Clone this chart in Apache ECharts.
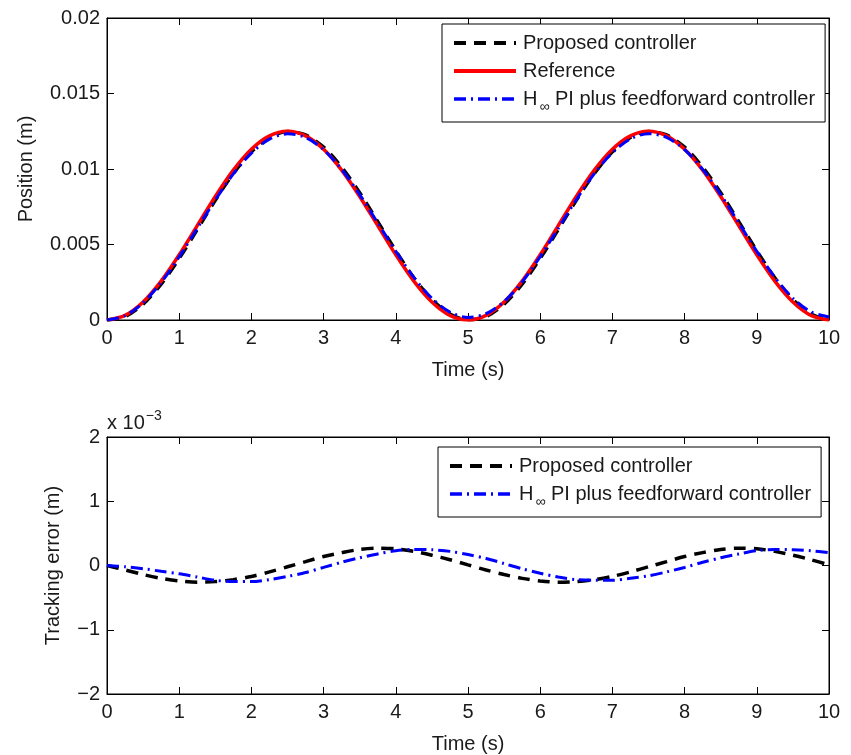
<!DOCTYPE html>
<html><head><meta charset="utf-8">
<script src="https://cdn.jsdelivr.net/npm/echarts@6/dist/echarts.min.js"></script>
<style>html,body{margin:0;padding:0;background:#fff}#c{width:851px;height:755px}</style>
</head><body><div id="c"></div>
<script>
// time samples (s)
const time = [0,0.25,0.5,0.75,1,1.25,1.5,1.75,2,2.25,2.5,2.75,3,3.25,3.5,3.75,4,4.25,4.5,4.75,5,5.25,5.5,5.75,6,6.25,6.5,6.75,7,7.25,7.5,7.75,8,8.25,8.5,8.75,9,9.25,9.5,9.75,10];
// top plot: positions (m)
const posReference = [0,0.000306,0.001194,0.002576,0.004319,0.00625,0.008181,0.009924,0.011306,0.012194,0.0125,0.012194,0.011306,0.009924,0.008181,0.00625,0.004319,0.002576,0.001194,0.000306,0,0.000306,0.001194,0.002576,0.004319,0.00625,0.008181,0.009924,0.011306,0.012194,0.0125,0.012194,0.011306,0.009924,0.008181,0.00625,0.004319,0.002576,0.001194,0.000306,0];
const posProposed = [0,0.000236,0.001054,0.002376,0.004079,0.00599,0.007931,0.009704,0.011136,0.012094,0.01248,0.012254,0.011446,0.010124,0.008431,0.00652,0.004579,0.002796,0.001354,0.000396,0.00001,0.000236,0.001054,0.002376,0.004079,0.00599,0.007931,0.009704,0.011136,0.012094,0.01248,0.012254,0.011446,0.010124,0.008431,0.00652,0.004579,0.002796,0.001354,0.000396,0.00001];
const posHinf = [0,0.000286,0.001144,0.002486,0.004189,0.00607,0.007951,0.009674,0.011056,0.011974,0.01233,0.012084,0.011276,0.009974,0.008301,0.00643,0.004549,0.002826,0.001439,0.000526,0.00017,0.000416,0.001224,0.002526,0.004199,0.00607,0.007961,0.009694,0.011076,0.011994,0.01234,0.012094,0.011276,0.009974,0.008301,0.00643,0.004549,0.002826,0.001439,0.000536,0.0002];
// bottom plot: tracking error (x 10^-3 m)
const errProposed = [0,-0.07,-0.14,-0.2,-0.24,-0.26,-0.25,-0.22,-0.17,-0.1,-0.02,0.06,0.14,0.2,0.25,0.27,0.26,0.22,0.16,0.09,0.01,-0.07,-0.14,-0.2,-0.24,-0.26,-0.25,-0.22,-0.17,-0.1,-0.02,0.06,0.14,0.2,0.25,0.27,0.26,0.22,0.16,0.09,0.01];
const errHinf = [0,-0.02,-0.05,-0.09,-0.13,-0.18,-0.23,-0.25,-0.25,-0.22,-0.17,-0.11,-0.03,0.05,0.12,0.18,0.23,0.25,0.245,0.22,0.17,0.11,0.03,-0.05,-0.12,-0.18,-0.22,-0.23,-0.23,-0.2,-0.16,-0.1,-0.03,0.05,0.12,0.18,0.23,0.25,0.245,0.23,0.2];
const xTicks = [0,1,2,3,4,5,6,7,8,9,10];
const posTicks = [0,0.005,0.01,0.015,0.02];
const errTicks = [-2,-1,0,1,2];
const names = ['Proposed controller','Reference','H\u221e PI plus feedforward controller'];

const FONT = '"Liberation Sans", Arial, Helvetica, sans-serif';
const TXT = '#1a1a1a';
const FS = 20;
const pair = (ys) => time.map((t,i)=>[t,ys[i]]);
const fmtNum = v => String(v).replace('-', '\u2212');

function xAx(gi, show){
  return {type:'value', gridIndex:gi, min:0, max:10, interval:1, position: show?'bottom':'top',
    axisLine:{show:true,onZero:false,lineStyle:{color:'#000',width:1}},
    axisTick:{show:true,inside:true,length:7,lineStyle:{color:'#000'}},
    axisLabel:{show:show,color:TXT,fontFamily:FONT,fontSize:FS,margin:8},
    splitLine:{show:false},
    name: show?'Time (s)':'', nameLocation:'middle', nameGap: 40,
    nameTextStyle:{color:TXT,fontFamily:FONT,fontSize:FS}};
}
function yAx(gi, show, min, max, interval, name, nameGap, fmt){
  return {type:'value', gridIndex:gi, min:min, max:max, interval:interval, position: show?'left':'right',
    axisLine:{show:true,onZero:false,lineStyle:{color:'#000',width:1}},
    axisTick:{show:true,inside:true,length:7,lineStyle:{color:'#000'}},
    axisLabel:{show:show,color:TXT,fontFamily:FONT,fontSize:FS,margin:7,formatter:fmt},
    splitLine:{show:false},
    name: show?name:'', nameLocation:'middle', nameGap:nameGap,
    nameTextStyle:{color:TXT,fontFamily:FONT,fontSize:FS}};
}
const dashBlack = {color:'#000', width:3.5, type:[12,8]};
const dashBlue = {color:'#0000ff', width:3, type:[12,5,2,5]};
const solidRed = {color:'#ff0000', width:3.5, type:'solid'};

const legendRich = {s:{fontSize:14, fontFamily:FONT, color:TXT, padding:[16,0,0,2]}, n:{fontSize:FS,fontFamily:FONT,color:TXT}};
const legendFmt = n => n.indexOf('\u221e')>=0 ? '{n|H}{s|\u221e}{n| PI plus feedforward controller}' : n;
const legendBase = {orient:'vertical', itemWidth:62, itemHeight:14, itemGap:8,
  padding:[9,10,8,10], backgroundColor:'#fff', borderColor:'#000', borderWidth:1,
  itemStyle:{opacity:0},
  textStyle:{color:TXT,fontFamily:FONT,fontSize:FS, rich:legendRich, padding:[0,0,0,2]}, formatter:legendFmt, selectedMode:false};
const legItem = (n, w) => ({name:n, lineStyle:{width:w}});

const option = {
  animation:false,
  backgroundColor:'#fff',
  textStyle:{fontFamily:FONT},
  grid:[
    {left:107, top:18, width:722, height:302, show:true, borderColor:'#000', borderWidth:1, backgroundColor:'#fff'},
    {left:107, top:437, width:722, height:257, show:true, borderColor:'#000', borderWidth:1, backgroundColor:'#fff'}
  ],
  xAxis:[xAx(0,true), xAx(0,false), xAx(1,true), xAx(1,false)],
  yAxis:[
    yAx(0,true,0,0.02,0.005,'Position (m)',71, v=>fmtNum(v)),
    yAx(0,false,0,0.02,0.005,'',0),
    yAx(1,true,-2,2,1,'Tracking error (m)',44, v=>fmtNum(v)),
    yAx(1,false,-2,2,1,'',0)
  ],
  legend:[
    Object.assign({}, legendBase, {data:[legItem(names[0],4), legItem(names[1],4), legItem(names[2],3.5)], left:442, top:24}),
    Object.assign({}, legendBase, {data:[legItem(names[0],4), legItem(names[2],3.5)], left:438, top:447})
  ],
  graphic:[
    {type:'text', left:107, top:409, style:{text:'{a|x 10}{b|\u22123}', rich:{a:{fontSize:FS,fontFamily:FONT,fill:TXT}, b:{fontSize:14,fontFamily:FONT,fill:TXT,padding:[0,0,14,1]}}}}
  ],
  series:[
    {name:names[0], type:'line', xAxisIndex:0, yAxisIndex:0, data:pair(posProposed), smooth:0.3, showSymbol:false, symbol:'none', lineStyle:dashBlack, itemStyle:{color:'#000'}},
    {name:names[1], type:'line', xAxisIndex:0, yAxisIndex:0, data:pair(posReference), smooth:0.3, showSymbol:false, symbol:'none', lineStyle:solidRed, itemStyle:{color:'#ff0000'}},
    {name:names[2], type:'line', xAxisIndex:0, yAxisIndex:0, data:pair(posHinf), smooth:0.3, showSymbol:false, symbol:'none', lineStyle:dashBlue, itemStyle:{color:'#0000ff'}},
    {name:names[0], type:'line', xAxisIndex:2, yAxisIndex:2, data:pair(errProposed), smooth:0.3, showSymbol:false, symbol:'none', lineStyle:dashBlack, itemStyle:{color:'#000'}},
    {name:names[2], type:'line', xAxisIndex:2, yAxisIndex:2, data:pair(errHinf), smooth:0.3, showSymbol:false, symbol:'none', lineStyle:dashBlue, itemStyle:{color:'#0000ff'}}
  ]
};
const chart = echarts.init(document.getElementById('c'), null, {renderer:'canvas'});
chart.setOption(option);
</script></body></html>
